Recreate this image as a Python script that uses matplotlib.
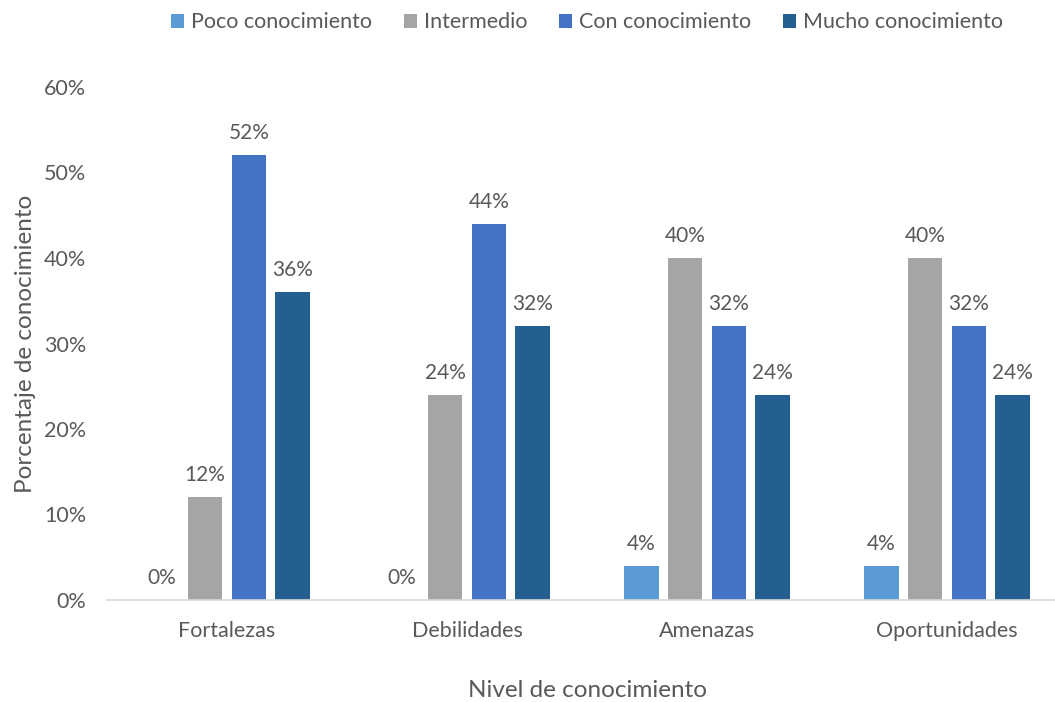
import numpy as np
import matplotlib
matplotlib.use("Agg")
import matplotlib.pyplot as plt

plt.rcParams['font.family'] = ['Lato', 'DejaVu Sans']

categorias = ["Fortalezas", "Debilidades", "Amenazas", "Oportunidades"]
series = ["Poco conocimiento", "Intermedio", "Con conocimiento", "Mucho conocimiento"]
poco = [0, 0, 4, 4]
intermedio = [12, 24, 40, 40]
con = [52, 44, 32, 32]
mucho = [36, 32, 24, 24]
colores = ["#5B9BD5", "#A5A5A5", "#4472C4", "#255E91"]

texto = "#595959"

fig = plt.figure(figsize=(10.55, 7.02), dpi=100)
ax = fig.add_axes([107 / 1055, 1 - 600 / 702, 960 / 1055, 513 / 702])

x = np.arange(len(categorias))
ancho = 0.144
paso = 0.182
for i, (nombre, vals, col) in enumerate(zip(series, [poco, intermedio, con, mucho], colores)):
    pos = x + (i - 1.5) * paso
    barras = ax.bar(pos, vals, ancho, color=col, label=nombre, zorder=2)
    for b, v in zip(barras, vals):
        ax.text(b.get_x() + b.get_width() / 2, v + 1.4, f"{v}%", ha="center",
                va="bottom", fontsize=15, color=texto)

ax.set_xlim(-0.5, len(categorias) - 0.5)
ax.set_ylim(0, 60)
ax.set_yticks(range(0, 61, 10))
ax.set_yticklabels([f"{t}%" for t in range(0, 61, 10)])
ax.set_xticks(x)
ax.set_xticklabels(categorias)
ax.tick_params(axis="both", length=0, labelsize=15.5, labelcolor=texto)
ax.tick_params(axis="x", pad=15)
ax.tick_params(axis="y", pad=15)

for s in ["top", "right", "left"]:
    ax.spines[s].set_visible(False)
ax.spines["bottom"].set_color("#D9D9D9")
ax.spines["bottom"].set_linewidth(1.2)

ax.set_xlabel("Nivel de conocimiento", fontsize=17.5, color=texto, labelpad=28)
ax.set_ylabel("Porcentaje de conocimiento", fontsize=17.5, color=texto, labelpad=6)

fig.legend(loc="upper center", bbox_to_anchor=(587 / 1055, 1.01), ncol=4, frameon=False,
           fontsize=15.5, labelcolor=texto, handlelength=0.6, handleheight=0.6,
           handletextpad=0.35, columnspacing=1.45)

fig.savefig("out.png", dpi=100)
